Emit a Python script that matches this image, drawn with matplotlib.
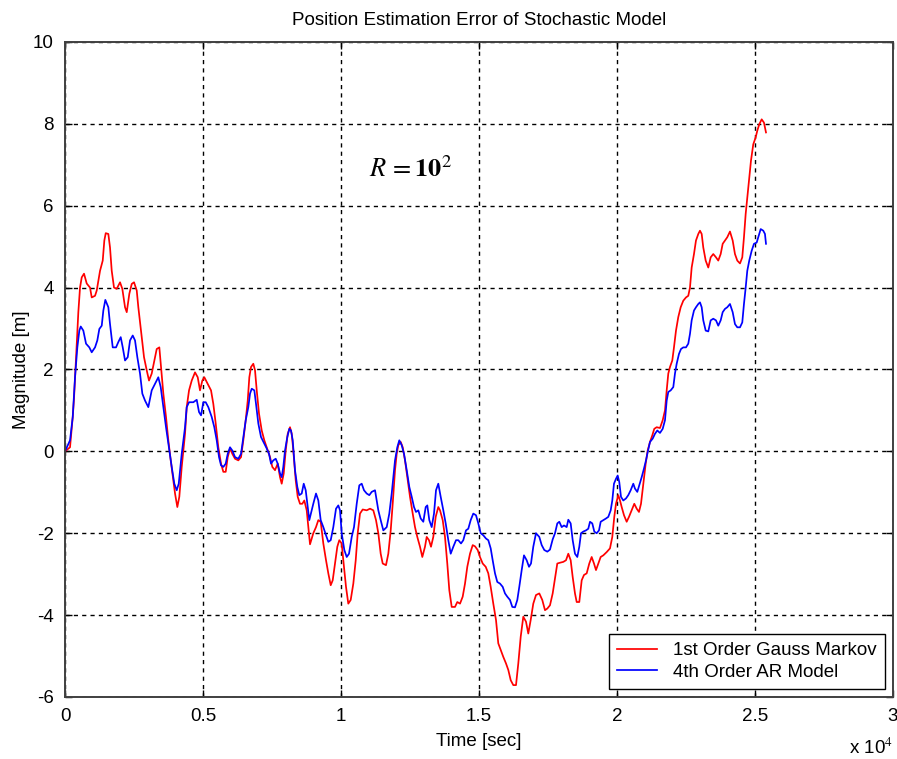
import matplotlib
matplotlib.use("Agg")
import matplotlib.pyplot as plt
from matplotlib.ticker import FuncFormatter

plt.rcParams['font.family'] = ['Liberation Sans', 'DejaVu Sans']
plt.rcParams['mathtext.fontset'] = 'stix'

# Position error, 1st order Gauss-Markov model (time in s, error in m)
t_gm = [0, 181, 279, 326, 424, 482, 543, 605, 688, 786, 906, 967, 1087, 1149, 1207,
        1268, 1366, 1424, 1475, 1569, 1630, 1692, 1775, 1873, 1993, 2076, 2174, 2236,
        2330, 2417, 2500, 2598, 2656, 2779, 2862, 2960, 3043, 3141, 3236, 3322, 3417,
        3478, 3562, 3659, 3743, 3830, 3924, 3986, 4069, 4141, 4228, 4348, 4409, 4493,
        4591, 4710, 4808, 4891, 4975, 5047, 5170, 5290, 5373, 5460, 5554, 5652, 5736,
        5822, 5895, 5978, 6062, 6159, 6279, 6377, 6460, 6547, 6620, 6678, 6739, 6822,
        6884, 6946, 7029, 7127, 7221, 7308, 7428, 7511, 7609, 7706, 7790, 7851, 7924,
        7996, 8069, 8152, 8214, 8272, 8359, 8431, 8514, 8598, 8670, 8757, 8815, 8877,
        8996, 9094, 9178, 9264, 9359, 9457, 9540, 9627, 9699, 9783, 9866, 9938, 10025,
        10083, 10181, 10264, 10351, 10446, 10533, 10605, 10688, 10786, 10931, 11051,
        11170, 11268, 11352, 11438, 11511, 11630, 11714, 11801, 11873, 11957, 12018,
        12076, 12163, 12236, 12319, 12402, 12500, 12598, 12681, 12764, 12862, 12946,
        13043, 13105, 13188, 13261, 13344, 13431, 13525, 13587, 13685, 13768, 13851,
        13924, 14011, 14130, 14214, 14312, 14409, 14493, 14576, 14674, 14772, 14855,
        14953, 15036, 15134, 15243, 15337, 15424, 15518, 15616, 15699, 15786, 15880,
        15978, 16062, 16149, 16243, 16341, 16424, 16511, 16605, 16703, 16786, 16873,
        16967, 17065, 17185, 17293, 17391, 17475, 17572, 17670, 17754, 17837, 17935,
        18054, 18152, 18236, 18322, 18395, 18478, 18540, 18634, 18721, 18804, 18902,
        18996, 19083, 19167, 19239, 19322, 19409, 19504, 19627, 19746, 19830, 19902,
        19964, 20047, 20109, 20170, 20254, 20351, 20435, 20532, 20627, 20714, 20797,
        20870, 20953, 21040, 21112, 21196, 21279, 21351, 21438, 21558, 21656, 21739,
        21801, 21859, 21920, 22004, 22065, 22138, 22221, 22308, 22402, 22500, 22583,
        22645, 22706, 22790, 22862, 22946, 23007, 23069, 23127, 23214, 23308, 23395,
        23489, 23587, 23670, 23757, 23830, 23913, 23996, 24094, 24192, 24275, 24359,
        24457, 24540, 24601, 24663, 24721, 24793, 24855, 24938, 25025, 25083, 25156,
        25243, 25326, 25399]
e_gm = [0.0, 0.1, 0.84, 1.3, 2.6, 3.4, 4.0, 4.25, 4.34, 4.1, 4.0, 3.76, 3.8, 3.93, 4.17,
        4.41, 4.66, 5.15, 5.33, 5.31, 4.98, 4.41, 4.0, 3.97, 4.13, 3.97, 3.52, 3.4,
        3.85, 4.09, 4.13, 3.93, 3.52, 2.79, 2.3, 1.98, 1.73, 1.9, 2.22, 2.5, 2.54,
        2.06, 1.41, 0.84, 0.27, -0.22, -0.71, -1.03, -1.36, -1.11, -0.38, 0.43, 1.08, 1.49,
        1.73, 1.93, 1.81, 1.49, 1.73, 1.81, 1.65, 1.49, 1.16, 0.68, 0.1, -0.3, -0.5,
        -0.5, -0.14, 0.07, -0.06, -0.18, -0.22, -0.14, 0.27, 0.76, 1.24, 1.81, 2.06, 2.14,
        1.98, 1.49, 0.92, 0.51, 0.27, 0.1, -0.14, -0.38, -0.46, -0.3, -0.63, -0.79, -0.54,
        0.02, 0.43, 0.59, 0.43, 0.02, -0.71, -1.11, -1.28, -1.28, -1.2, -1.44, -1.85, -2.27,
        -2.0, -1.85, -1.68, -1.72, -2.25, -2.66, -2.98, -3.27, -3.15, -2.74, -2.33, -2.17, -2.25,
        -2.66, -3.31, -3.72, -3.63, -3.23, -2.66, -2.0, -1.52, -1.42, -1.44, -1.4,
        -1.44, -1.68, -2.0, -2.5, -2.74, -2.78, -2.5, -1.93, -1.28, -0.46, -0.06,
        0.15, 0.23, 0.1, -0.22, -0.63, -1.11, -1.52, -1.85, -2.09, -2.33, -2.58,
        -2.33, -2.09, -2.17, -2.33, -2.09, -1.6, -1.36, -1.44, -1.68, -2.09, -2.74,
        -3.39, -3.8, -3.8, -3.68, -3.72, -3.55, -3.23, -2.82, -2.5, -2.29, -2.32,
        -2.41, -2.58, -2.74, -2.82, -2.98, -3.31, -3.72, -4.12, -4.69, -4.85, -5.02,
        -5.18, -5.34, -5.59, -5.71, -5.71, -5.18, -4.53, -4.04, -4.16, -4.45, -4.12,
        -3.72, -3.51, -3.47, -3.63, -3.88, -3.84, -3.76, -3.47, -3.1, -2.74, -2.72,
        -2.7, -2.66, -2.5, -2.66, -3.07, -3.47, -3.68, -3.68, -3.15, -3.02, -2.98,
        -2.74, -2.58, -2.74, -2.9, -2.74, -2.58, -2.54, -2.46, -2.37, -2.09, -1.6,
        -1.28, -1.07, -1.2, -1.36, -1.56, -1.72, -1.6, -1.44, -1.28, -1.4, -1.48,
        -1.28, -0.79, -0.3, 0.02, 0.23, 0.39, 0.55, 0.59, 0.57, 0.76, 1.0,
        1.49, 1.9, 2.06, 2.22, 2.54, 2.95, 3.28, 3.52, 3.68, 3.76, 3.8,
        4.0, 4.49, 4.82, 5.15, 5.31, 5.39, 5.31, 4.98, 4.66, 4.49, 4.74,
        4.82, 4.74, 4.66, 4.82, 5.07, 5.15, 5.23, 5.37, 5.15, 4.82, 4.66,
        4.59, 4.74, 5.23, 5.8, 6.2, 6.69, 7.1, 7.5, 7.67, 7.83, 7.99,
        8.11, 8.03, 7.79]

# Position error, 4th order AR model
t_ar = [0, 181, 279, 362, 446, 518, 569, 663, 761, 880, 967, 1087, 1170, 1243, 1330,
        1388, 1460, 1569, 1630, 1728, 1848, 1931, 2018, 2091, 2174, 2272, 2355, 2453,
        2536, 2620, 2717, 2801, 2899, 3018, 3141, 3261, 3380, 3467, 3562, 3659, 3779,
        3866, 3960, 4047, 4120, 4228, 4348, 4409, 4493, 4649, 4772, 4855, 4928, 5011,
        5098, 5192, 5315, 5409, 5496, 5580, 5652, 5736, 5822, 5895, 5978, 6062, 6159,
        6279, 6377, 6460, 6547, 6641, 6703, 6765, 6859, 6920, 7004, 7101, 7221, 7308,
        7391, 7464, 7547, 7634, 7706, 7790, 7851, 7909, 7971, 8054, 8127, 8188, 8250,
        8333, 8417, 8489, 8576, 8649, 8721, 8793, 8851, 8996, 9094, 9178, 9264, 9359,
        9457, 9540, 9627, 9721, 9819, 9902, 9964, 10025, 10120, 10207, 10290, 10388,
        10471, 10569, 10663, 10750, 10833, 10931, 11025, 11112, 11232, 11294, 11352,
        11438, 11533, 11656, 11750, 11837, 11895, 11957, 12040, 12112, 12199, 12283,
        12381, 12475, 12562, 12645, 12717, 12801, 12888, 12982, 13069, 13127, 13199,
        13286, 13370, 13442, 13525, 13612, 13707, 13793, 13888, 13975, 14069, 14167,
        14250, 14348, 14431, 14529, 14612, 14699, 14793, 14891, 14975, 15062, 15156,
        15254, 15337, 15424, 15496, 15580, 15663, 15761, 15859, 15942, 16025, 16123,
        16207, 16304, 16388, 16460, 16547, 16630, 16728, 16812, 16884, 16967, 17065,
        17185, 17272, 17366, 17475, 17572, 17670, 17754, 17837, 17910, 17996, 18080,
        18177, 18236, 18322, 18395, 18478, 18562, 18634, 18696, 18779, 18877, 18960,
        19022, 19105, 19178, 19264, 19348, 19409, 19504, 19601, 19685, 19772, 19830,
        19891, 19964, 20025, 20083, 20145, 20228, 20326, 20409, 20496, 20591, 20652,
        20736, 20808, 20895, 20978, 21051, 21112, 21196, 21293, 21377, 21460, 21558,
        21656, 21739, 21801, 21859, 21946, 22040, 22101, 22163, 22246, 22319, 22402,
        22500, 22583, 22645, 22706, 22790, 22862, 22946, 23007, 23069, 23127, 23214,
        23308, 23395, 23489, 23587, 23670, 23757, 23830, 23913, 23996, 24094, 24192,
        24275, 24359, 24457, 24540, 24601, 24663, 24721, 24793, 24880, 24964, 25062,
        25120, 25207, 25301, 25362, 25399]
e_ar = [0.0, 0.27, 0.84, 1.81, 2.54, 2.95, 3.05, 2.95, 2.63, 2.54, 2.42, 2.54, 2.71, 2.99, 3.07,
        3.44, 3.7, 3.52, 3.11, 2.54, 2.54, 2.67, 2.79, 2.54, 2.22, 2.3, 2.71, 2.83,
        2.71, 2.3, 1.9, 1.41, 1.24, 1.08, 1.49, 1.65, 1.81, 1.57, 1.08, 0.59, 0.02,
        -0.38, -0.79, -0.95, -0.79, -0.06, 0.59, 1.08, 1.2, 1.2, 1.26, 0.96, 0.88, 1.2,
        1.2, 1.08, 0.84, 0.59, 0.27, -0.14, -0.34, -0.38, -0.3, -0.06, 0.1, 0.02, -0.14,
        -0.18, -0.06, 0.35, 0.76, 1.08, 1.41, 1.53, 1.49, 1.16, 0.68, 0.35, 0.19, 0.07,
        -0.06, -0.3, -0.22, -0.18, -0.3, -0.54, -0.63, -0.38, 0.02, 0.35, 0.55, 0.51, 0.27,
        -0.46, -0.87, -1.07, -1.03, -0.79, -0.95, -1.36, -1.68, -1.28, -1.03, -1.2, -1.68, -1.85,
        -2.05, -2.21, -2.17, -1.85, -1.4, -1.32, -1.44, -2.0, -2.41, -2.58, -2.5, -2.09,
        -1.85, -1.28, -0.83, -0.79, -0.95, -1.03, -1.07, -0.99, -0.95, -1.2, -1.44,
        -1.68, -1.93, -1.85, -1.52, -1.03, -0.63, -0.22, 0.1, 0.27, 0.15, -0.06,
        -0.46, -0.87, -1.11, -1.36, -1.48, -1.44, -1.64, -1.72, -1.36, -1.32, -1.68,
        -1.85, -1.52, -0.95, -0.79, -1.11, -1.44, -1.76, -2.17, -2.5, -2.33, -2.17,
        -2.17, -2.25, -2.17, -1.93, -1.89, -1.68, -1.52, -1.56, -1.76, -2.0, -2.05,
        -2.13, -2.17, -2.37, -2.66, -2.98, -3.19, -3.23, -3.31, -3.47, -3.55, -3.63,
        -3.8, -3.81, -3.63, -3.31, -2.9, -2.54, -2.66, -2.82, -2.74, -2.33, -2.0,
        -2.09, -2.29, -2.41, -2.45, -2.4, -2.15, -2.0, -1.76, -1.72, -1.85, -1.81,
        -1.85, -1.67, -1.76, -2.17, -2.5, -2.58, -2.33, -2.0, -1.96, -1.93, -1.89,
        -1.72, -1.76, -1.96, -2.0, -1.93, -1.72, -1.68, -1.64, -1.6, -1.44, -1.2,
        -0.79, -0.67, -0.59, -0.75, -1.11, -1.2, -1.15, -1.07, -0.95, -0.79, -0.91,
        -0.99, -0.83, -0.63, -0.42, -0.22, -0.02, 0.23, 0.31, 0.43, 0.51, 0.45,
        0.55, 0.76, 1.24, 1.45, 1.49, 1.57, 1.9, 2.14, 2.38, 2.5, 2.54,
        2.54, 2.63, 2.87, 3.2, 3.44, 3.52, 3.6, 3.64, 3.52, 3.2, 2.95,
        2.93, 3.2, 3.24, 3.2, 3.07, 3.2, 3.4, 3.48, 3.52, 3.6, 3.4,
        3.11, 3.03, 3.03, 3.15, 3.6, 4.0, 4.41, 4.66, 4.9, 5.07, 5.1,
        5.23, 5.43, 5.39, 5.31, 5.07]

x_ticks = [0, 5000, 10000, 15000, 20000, 25000, 30000]
y_ticks = [-6, -4, -2, 0, 2, 4, 6, 8, 10]
series_names = ['1st Order Gauss Markov', '4th Order AR Model']

fig = plt.figure(figsize=(8.97, 7.59), dpi=100)
ax = fig.add_axes([0.0725, 0.0817, 0.923, 0.863])

ax.plot(t_gm, e_gm, color='#ff0000', lw=1.25, label=series_names[0])
ax.plot(t_ar, e_ar, color='#0000ff', lw=1.25, label=series_names[1])

ax.set_xlim(0, 30000)
ax.set_ylim(-6, 10)
ax.set_xticks(x_ticks)
ax.set_yticks(y_ticks)
ax.xaxis.set_major_formatter(FuncFormatter(lambda v, p: '%g' % (v / 1e4)))
ax.yaxis.set_major_formatter(FuncFormatter(lambda v, p: '%g' % v))
ax.tick_params(direction='in', length=5, width=1, top=True, right=True,
               labelsize=13.5, colors='#000000', pad=8)
ax.grid(True, color='black', linestyle=(0, (3, 3)), linewidth=1)
for s in ax.spines.values():
    s.set_color('#404040')
    s.set_linewidth(1.4)

ax.set_title('Position Estimation Error of Stochastic Model', fontsize=13.5, pad=12)
ax.set_xlabel('Time [sec]', fontsize=13.5, labelpad=6)
ax.set_ylabel('Magnitude [m]', fontsize=13.5, labelpad=2)
ax.text(1.0, -0.062, r'x 10$^4$', transform=ax.transAxes, ha='right', va='top',
        fontsize=13.5)

ax.text(11000, 6.9, r'$R\,=\mathbf{10}^{2}$', fontsize=19, ha='left', va='center')

leg = ax.legend(loc='lower right', fontsize=13.5, frameon=True, fancybox=False,
                edgecolor='black', framealpha=1, handlelength=2.1,
                handletextpad=0.9, borderaxespad=0.4, labelspacing=0.25,
                borderpad=0.45)
leg.get_frame().set_linewidth(1.0)

fig.savefig('out.png', dpi=100)
